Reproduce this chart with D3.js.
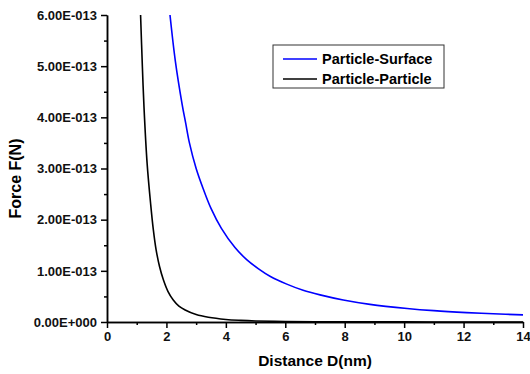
<!DOCTYPE html>
<html>
<head>
<meta charset="utf-8">
<script src="https://cdn.jsdelivr.net/npm/d3@7"></script>
<style>
  body { margin: 0; background: #fff; }
  svg { font-family: "Liberation Sans", Arial, sans-serif; font-weight: bold; }
  .axis path, .axis line { stroke: #000; stroke-width: 1.5; }
  .axis text { font-size: 13px; font-weight: bold; fill: #111; }
</style>
</head>
<body>
<svg></svg>
<script>
// distances (nm) and forces (N)
var surfaceD = [2.12, 2.3, 2.53, 2.65, 2.77, 3.0, 3.24, 3.5, 3.85, 4.3, 4.7, 5.1, 5.5, 6.05, 6.6, 7.17, 7.95, 8.85, 10.1, 11.0, 12.1, 13.0, 14.0];
var surfaceF = [6.0e-13, 5.1e-13, 4.25e-13, 3.88e-13, 3.51e-13, 3.0e-13, 2.6e-13, 2.22e-13, 1.83e-13, 1.46e-13, 1.22e-13, 1.04e-13, 0.89e-13, 0.74e-13, 0.62e-13, 0.53e-13, 0.43e-13, 0.345e-13, 0.265e-13, 0.222e-13, 0.184e-13, 0.16e-13, 0.14e-13];

var particleD = [1.13, 1.19, 1.245, 1.35, 1.47, 1.56, 1.65, 1.77, 1.9, 2.05, 2.23, 2.42, 2.63, 3.0, 3.41, 4.0, 4.5, 5.0, 6.0, 7.0, 8.0, 10.0, 12.0, 14.0];
var particleF = [6.0e-13, 5.0e-13, 4.2e-13, 3.1e-13, 2.3e-13, 1.8e-13, 1.42e-13, 1.08e-13, 0.82e-13, 0.6e-13, 0.43e-13, 0.31e-13, 0.235e-13, 0.145e-13, 0.092e-13, 0.05e-13, 0.032e-13, 0.021e-13, 0.011e-13, 0.006e-13, 0.0035e-13, 0.0015e-13, 0.0008e-13, 0.0005e-13];

var xTicks = [0, 2, 4, 6, 8, 10, 12, 14];
var yTicks = [0, 1e-13, 2e-13, 3e-13, 4e-13, 5e-13, 6e-13];

var seriesNames = ["Particle-Surface", "Particle-Particle"];
var seriesColors = ["#0000ff", "#000000"];

var screen = {width: 530, height: 374};
var margins = {top: 15, left: 107, right: 7, bottom: 52};
var graph = {
    width: screen.width - margins.left - margins.right,
    height: screen.height - margins.top - margins.bottom
};

var svg = d3.select("svg")
    .attr("width", screen.width)
    .attr("height", screen.height);

var xScale = d3.scaleLinear().domain([0, 14]).range([0, graph.width]);
var yScale = d3.scaleLinear().domain([0, 6e-13]).range([graph.height, 0]);

// 6.00E-013 style labels
var sciFormat = function(v) {
    if (v === 0) return "0.00E+000";
    var e = Math.floor(Math.log10(v) + 1e-9);
    var m = v / Math.pow(10, e);
    var s = e < 0 ? "-" : "+";
    return m.toFixed(2) + "E" + s + String(Math.abs(e)).padStart(3, "0");
};

var g = svg.append("g")
    .attr("transform", "translate(" + margins.left + "," + margins.top + ")");

g.append("clipPath").attr("id", "clip")
    .append("rect")
    .attr("x", 0).attr("y", 0)
    .attr("width", graph.width + 2).attr("height", graph.height);

// minor ticks
var xMinor = d3.range(1, 14, 2);
var yMinor = [0.5e-13, 1.5e-13, 2.5e-13, 3.5e-13, 4.5e-13, 5.5e-13];

g.append("g")
    .attr("class", "axis")
    .attr("transform", "translate(0," + graph.height + ")")
    .call(d3.axisBottom(xScale).tickValues(xMinor).tickSize(3).tickFormat("").tickSizeOuter(0));

g.append("g")
    .attr("class", "axis")
    .call(d3.axisLeft(yScale).tickValues(yMinor).tickSize(3).tickFormat("").tickSizeOuter(0));

// major axes
g.append("g")
    .attr("class", "axis")
    .attr("transform", "translate(0," + graph.height + ")")
    .call(d3.axisBottom(xScale).tickValues(xTicks).tickSize(6).tickPadding(4).tickSizeOuter(0));

g.append("g")
    .attr("class", "axis")
    .call(d3.axisLeft(yScale).tickValues(yTicks).tickSize(6).tickPadding(4).tickFormat(sciFormat).tickSizeOuter(0));

// curves
var lineGenerator = d3.line()
    .x(function(d) { return xScale(d[0]); })
    .y(function(d) { return yScale(d[1]); })
    .curve(d3.curveCatmullRom.alpha(0.5));

var series = [
    d3.zip(surfaceD, surfaceF),
    d3.zip(particleD, particleF)
];

g.append("g")
    .attr("clip-path", "url(#clip)")
    .selectAll("path")
    .data(series)
    .enter()
    .append("path")
    .attr("fill", "none")
    .attr("stroke", function(d, i) { return seriesColors[i]; })
    .attr("stroke-width", 1.6)
    .attr("d", lineGenerator);

// legend
var legend = svg.append("g").attr("transform", "translate(273,45)");
legend.append("rect")
    .attr("width", 171).attr("height", 43)
    .attr("fill", "#fff").attr("stroke", "#333").attr("stroke-width", 1);

var items = legend.selectAll("g.item")
    .data(seriesNames)
    .enter()
    .append("g")
    .attr("transform", function(d, i) { return "translate(0," + (14 + i * 20) + ")"; });

items.append("line")
    .attr("x1", 10).attr("x2", 44)
    .attr("stroke", function(d, i) { return seriesColors[i]; })
    .attr("stroke-width", 1.5);

items.append("text")
    .attr("x", 49).attr("y", 5)
    .style("font-size", "14.5px")
    .text(function(d) { return d; });

// axis titles
svg.append("text")
    .attr("text-anchor", "middle")
    .attr("x", margins.left + graph.width / 2)
    .attr("y", 366)
    .style("font-size", "15.5px")
    .text("Distance D(nm)");

svg.append("g")
    .attr("transform", "translate(21," + (margins.top + graph.height / 2 + 10) + ")")
    .append("text")
    .attr("text-anchor", "middle")
    .attr("transform", "rotate(-90)")
    .style("font-size", "16px")
    .text("Force F(N)");
</script>
</body>
</html>
